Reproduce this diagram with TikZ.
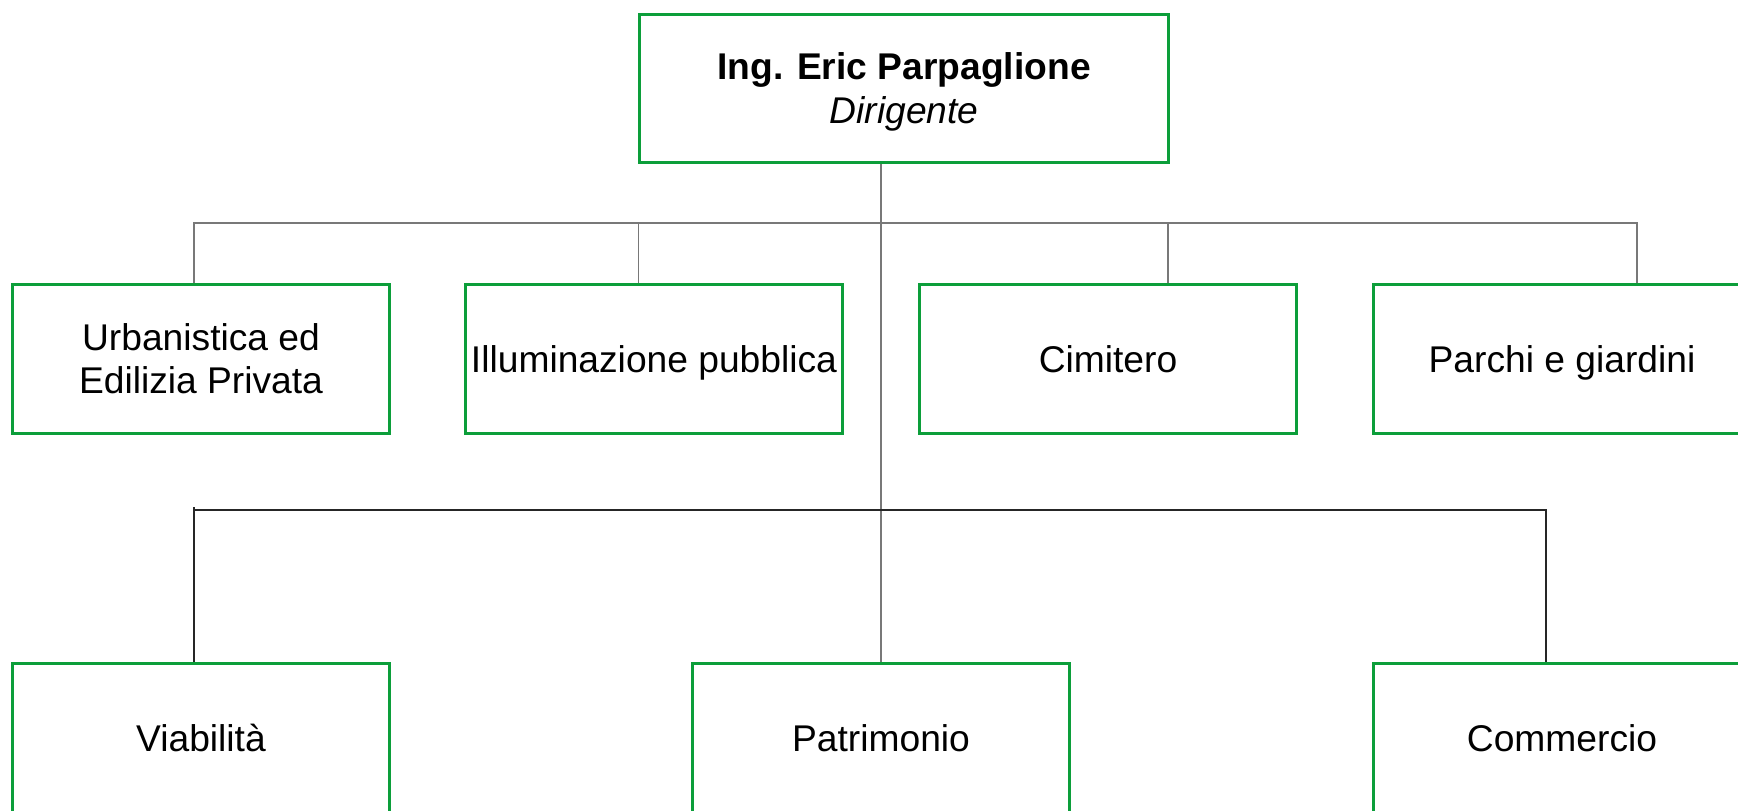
\documentclass[tikz,border=0pt]{standalone}
\usepackage{fontspec}
\setmainfont{Liberation Sans}
\definecolor{boxgreen}{RGB}{12,158,58}
\definecolor{linegray}{RGB}{120,120,120}
\begin{document}
\begin{tikzpicture}[x=0.5pt,y=-0.5pt,
  unit/.style={draw=boxgreen, line width=1.65pt, fill=white, rectangle,
    minimum width=188.3pt, minimum height=74.3pt, inner sep=0pt, align=center,
    font=\fontsize{18.6}{21.5}\selectfont},
  single/.style={unit, text height=13.3pt, text depth=0pt},
  head/.style={unit, minimum width=264.4pt, minimum height=73.9pt, text depth=0pt,
    font=\fontsize{18.6}{22}\selectfont},
  link/.style={draw=linegray, line width=0.6pt},
  linkdark/.style={draw=black!85, line width=0.6pt}]
\useasboundingbox (0,0) rectangle (1738,810);
\clip (0,0) rectangle (1738,810);
% boxes
\node[head] (dir) at (904,88.5) {\textbf{Ing. Eric Parpaglione}\\\textit{Dirigente}};
\node[unit] (urb) at (201,359) {Urbanistica ed\\Edilizia Privata};
\node[single] (ill) at (654,359) {Illuminazione pubblica};
\node[single] (cim) at (1108,359) {Cimitero};
\node[single] (par) at (1562,359) {Parchi e giardini};
\node[single] (via) at (201,738) {Viabilità};
\node[single] (pat) at (881,738) {Patrimonio};
\node[single] (com) at (1562,738) {Commercio};
% connectors
\draw[link] (pat.north) -- (pat.north |- dir.south);
\draw[link] ([xshift=-3.5pt]urb.north) -- ++(0,-60) -| ([xshift=37.5pt]par.north);
\draw[link] ([xshift=-7.8pt]ill.north) -- ++(0,-60);
\draw[link] ([xshift=30pt]cim.north) -- ++(0,-60);
\draw[linkdark] ([xshift=-3.5pt]via.north) -- ++(0,-155);
\draw[linkdark] ([xshift=-3.5pt,yshift=76pt]via.north) -| ([xshift=-8pt]com.north);
\end{tikzpicture}
\end{document}
